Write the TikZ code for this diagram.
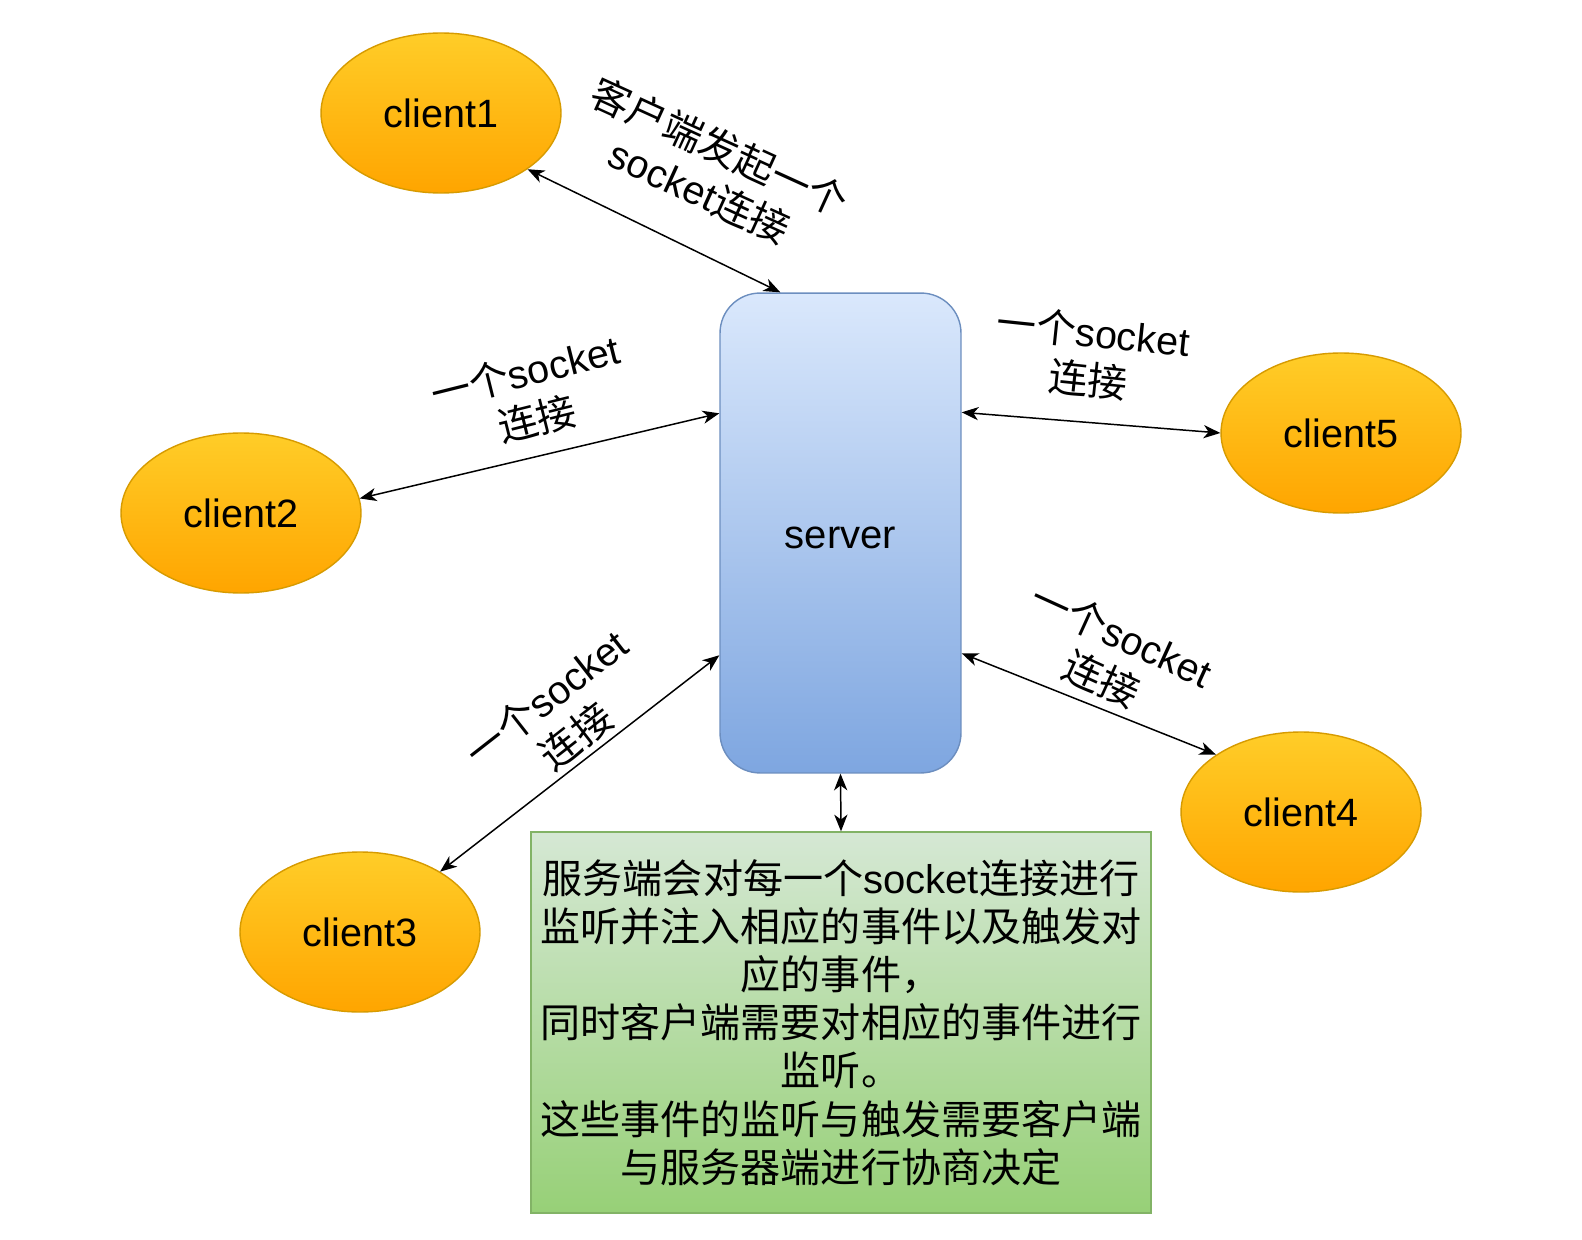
\documentclass[tikz,border=0pt]{standalone}
\usepackage{fontspec}
\setmainfont{Liberation Sans}
\newfontfamily\cjk{Noto Sans CJK SC}
\usetikzlibrary{shapes.geometric,arrows.meta,calc}
\definecolor{orTop}{HTML}{FFCD28}
\definecolor{orBot}{HTML}{FFA500}
\definecolor{orLine}{HTML}{D79B00}
\definecolor{blTop}{HTML}{DAE8FC}
\definecolor{blBot}{HTML}{7EA6E0}
\definecolor{blLine}{HTML}{6C8EBF}
\definecolor{grTop}{HTML}{D5E8D4}
\definecolor{grBot}{HTML}{97D077}
\definecolor{grLine}{HTML}{82B366}
\tikzset{
  client/.style={ellipse, draw=orLine, line width=0.8pt, top color=orTop, bottom color=orBot,
    minimum width=4.8cm, minimum height=3.2cm, inner sep=0pt, font=\fontsize{22.5}{27}\selectfont},
  conn/.style={draw, line width=0.85pt, {Stealth[length=9.5pt,width=7.5pt,inset=2.8pt]}-{Stealth[length=9.5pt,width=7.5pt,inset=2.8pt]}},
  lbl/.style={font=\fontsize{22.5}{27.5}\selectfont, inner sep=0pt, align=center}
}
\begin{document}
\begin{tikzpicture}[x=0.02cm,y=-0.02cm]
\useasboundingbox[fill=white] (0,0) rectangle (1582,1240);
% nodes
\node[client] (c1) at (441,113) {client1};
\node[client] (c2) at (241,513) {client2};
\node[client] (c3) at (360,932) {client3};
\node[client] (c4) at (1301,812) {client4};
\node[client] (c5) at (1341,433) {client5};
\node[draw=blLine, line width=0.8pt, rounded corners=0.8cm, top color=blTop, bottom color=blBot,
  minimum width=4.82cm, minimum height=9.6cm, inner sep=0pt, font=\fontsize{22.8}{27}\selectfont]
  (srv) at (840.5,533) {\raisebox{0pt}[18pt][0pt]{server}};
\node[draw=grLine, line width=0.8pt, top color=grTop, bottom color=grBot,
  minimum width=12.4cm, minimum height=7.62cm, inner sep=0pt, align=center,
  font=\fontsize{22.8}{27.4}\selectfont]
  (box) at (841,1022.5) {{\cjk 服务端会对每一个}socket{\cjk 连接进行}\\
  {\cjk 监听并注入相应的事件以及触发对}\\
  {\cjk 应的事件，}\\
  {\cjk 同时客户端需要对相应的事件进行}\\
  {\cjk 监听。}\\
  {\cjk 这些事件的监听与触发需要客户端}\\
  {\cjk 与服务器端进行协商决定}};
% connectors
\draw[conn] (c1.-33.5) -- ([xshift=1.22cm]srv.north west);
\draw[conn] (c2.7) -- ([yshift=-2.42cm]srv.north west);
\draw[conn] (c3.37.8) -- ([yshift=-7.26cm]srv.north west);
\draw[conn] (c4.146.2) -- ([yshift=-7.22cm]srv.north east);
\draw[conn] (c5.180) -- ([yshift=-2.4cm]srv.north east);
\draw[conn] (srv.south) -- (box.north);
% labels
\node[lbl, rotate=-24.5] (l1) at (710,169) {{\cjk 客户端发起一个}\\socket{\cjk 连接}};
\node[lbl, rotate=14] (l2) at (531,395) {{\cjk 一个}socket\\{\cjk 连接}};
\node[lbl, rotate=38] (l3) at (561,717) {{\cjk 一个}socket\\{\cjk 连接}};
\node[lbl, rotate=-24.5] (l4) at (1112,657) {{\cjk 一个}socket\\{\cjk 连接}};
\node[lbl, rotate=-6] (l5) at (1091,356) {{\cjk 一个}socket\\{\cjk 连接}};
\end{tikzpicture}
\end{document}
